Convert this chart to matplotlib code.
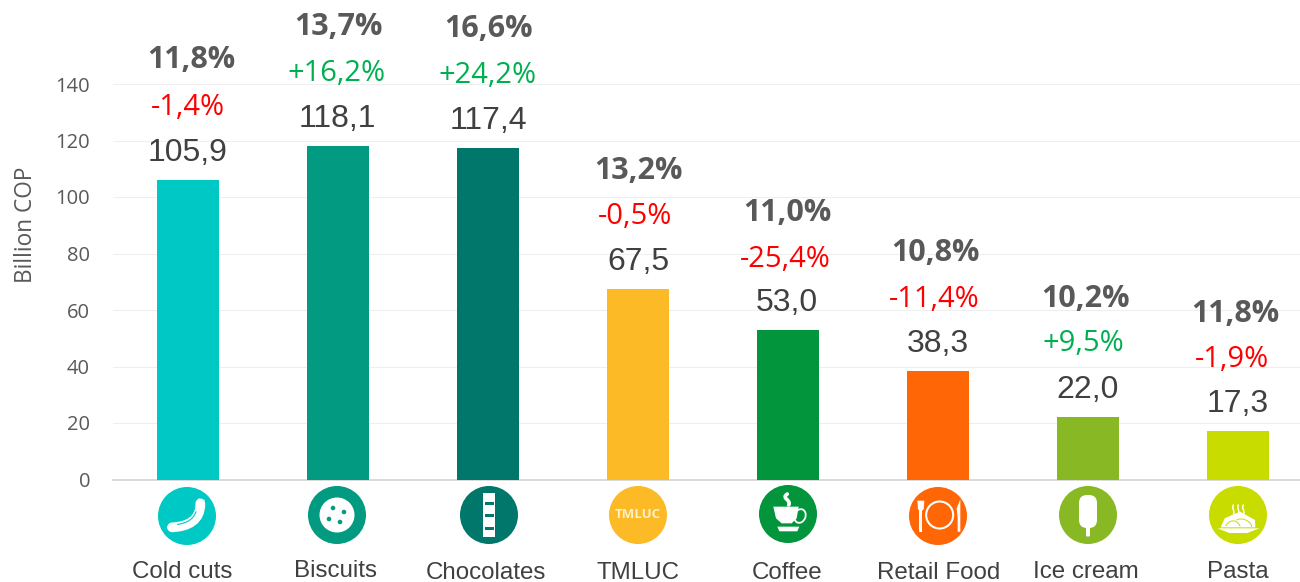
import matplotlib
matplotlib.use("Agg")
import matplotlib.pyplot as plt
from matplotlib.patches import Ellipse, Rectangle, Polygon, Circle, PathPatch, FancyBboxPatch
from matplotlib.path import Path

categories = ["Cold cuts", "Biscuits", "Chocolates", "TMLUC", "Coffee", "Retail Food", "Ice cream", "Pasta"]
values = [105.9, 118.1, 117.4, 67.5, 53.0, 38.3, 22.0, 17.3]
growth = ["-1,4%", "+16,2%", "+24,2%", "-0,5%", "-25,4%", "-11,4%", "+9,5%", "-1,9%"]
share = ["11,8%", "13,7%", "16,6%", "13,2%", "11,0%", "10,8%", "10,2%", "11,8%"]
colors = ["#00C8C4", "#029B82", "#01766A", "#FBBA26", "#02953B", "#FF6606", "#88B824", "#C8DC00"]
yticks = [0, 20, 40, 60, 80, 100, 120, 140]

# layout (pixels)
W, H = 1300, 582
value_off = [27] * 8
growth_off = [73, 72, 72, 72, 70, 72, 74, 71]
share_off = [120, 119, 119, 118, 117, 118, 118, 117]
growth_dx = [0, -1, 0, -3, -3, -4, -5, -6]
share_dx = [3, 1, 1, 0, -1, -3, -2, -3]
value_dx = [0, -1, 0, 0, -1, 0, 0, 0]
cat_x = [182, 335, 486, 638, 787, 939, 1086, 1238]
cat_y = [572, 571, 573, 573, 573, 573, 572, 572]
icon_x = [187, 337, 489, 638, 788, 938, 1088, 1238]
icon_y = [516, 515, 515, 515, 514, 516, 515, 515]

fig = plt.figure(figsize=(13, 5.82), dpi=100, facecolor="white")
y0 = 479.5
ppu = (479.5 - 84) / 140
ax = fig.add_axes([113 / W, (H - y0) / H, 1 - 113 / W, y0 / H])
ax.set_xlim(-0.5, (W - 188) / 150)
ax.set_ylim(0, y0 / ppu)
ax.bar(range(len(values)), values, width=62 / 150, color=colors, zorder=3)
for s in ["top", "right", "left"]:
    ax.spines[s].set_visible(False)
ax.spines["bottom"].set_color("#D9D9D9")
ax.spines["bottom"].set_linewidth(1.4)
ax.set_xticks([])
ax.set_yticks(yticks)
ax.tick_params(axis="y", length=0, pad=16.5)
for t in ax.get_yticklabels():
    t.set_fontfamily("Open Sans"); t.set_fontsize(14.5); t.set_color("#595959")
for v in yticks[1:]:
    ax.axhline(v, color="#EFEFEF", lw=0.8, zorder=1)
ax.set_axisbelow(True)

for i, v in enumerate(values):
    ax.annotate(f"{v:.1f}".replace(".", ","), (i, v), xytext=(value_dx[i], value_off[i]), textcoords="offset pixels",
                ha="center", va="center", fontsize=23, family="Liberation Sans", color="#404040", zorder=4)
    c = "#00B050" if growth[i].startswith("+") else "#FF0000"
    ax.annotate(growth[i], (i, v), xytext=(growth_dx[i], growth_off[i]), textcoords="offset pixels",
                ha="center", va="center", fontsize=21, family="Open Sans", color=c, zorder=4)
    ax.annotate(share[i], (i, v), xytext=(share_dx[i], share_off[i]), textcoords="offset pixels",
                ha="center", va="center", fontsize=22, family="Open Sans", weight="bold", color="#595959", zorder=4)

fig.text(26 / W, 1 - 225 / H, "Billion COP", rotation=90, ha="center", va="center",
         fontsize=16.3, family="Open Sans", color="#595959")

# overlay in pixel coordinates for the icons and category captions
ov = fig.add_axes([0, 0, 1, 1], facecolor="none")
ov.set_xlim(0, W); ov.set_ylim(H, 0); ov.axis("off")

for i, name in enumerate(categories):
    ov.text(cat_x[i], cat_y[i], name, ha="center", va="center", fontsize=17.4, family="Liberation Sans",
            color="#404040", clip_on=False)
    ov.add_patch(Circle((icon_x[i], icon_y[i]), 29, color=colors[i], lw=0))

def white(p):
    p.set_facecolor("white"); p.set_edgecolor("none"); ov.add_patch(p)

def curve(pts, color="white", lw=1.5, cap="round"):
    codes = [Path.MOVETO] + [Path.CURVE4] * (len(pts) - 1)
    ov.add_patch(PathPatch(Path(pts, codes), fc="none", ec=color, lw=lw, capstyle=cap))

def zp(ox, oy, pts):
    """Convert positions measured in a 3x crop whose corner is (ox, oy)."""
    return [(ox + a / 3, oy + b / 3) for a, b in pts]

# sausage
o = (140, 470)
curve(zp(*o, [(96, 172), (145, 170), (182, 150), (181, 100)]), lw=7)
curve(zp(*o, [(112, 163), (140, 160), (160, 148), (168, 125)]), color=colors[0], lw=0.8)
white(Polygon(zp(*o, [(176, 100), (176, 84), (186, 92), (194, 88), (190, 102)])))
white(Polygon(zp(*o, [(92, 160), (80, 172), (92, 184)])))
# cookie
x, y = icon_x[1], icon_y[1]
white(Circle((x, y), 17.5))
for dx, dy in [(-4, -7), (7, -3), (-8, 4), (3, 7)]:
    ov.add_patch(Circle((x + dx, y + dy), 2.3, color=colors[1], lw=0))
# chocolate bar
x, y = icon_x[2], icon_y[2]
white(Rectangle((x - 6, y - 22), 12, 44))
for dy in [-12, 0, 13]:
    ov.add_patch(Rectangle((x - 4.5, y + dy - 1.5), 9, 3, color=colors[2], lw=0))
# TMLUC
ov.text(icon_x[3], icon_y[3], "TMLUC", ha="center", va="center", fontsize=9.5, weight="bold", family="Open Sans", color="#FFF0CC")
# cup
o = (740, 470)
ov.add_patch(PathPatch(Path(zp(*o, [(100, 110), (176, 110), (170, 145), (155, 160), (125, 160), (108, 145), (100, 110)])),
                       fc="white", ec="none"))
ov.add_patch(Ellipse(zp(*o, [(180, 138)])[0], 11, 14, angle=20, fc="none", ec="white", lw=1.3))
white(Polygon(zp(*o, [(112, 170), (178, 170), (172, 184), (118, 184)])))
curve(zp(*o, [(142, 72), (122, 85), (155, 90), (146, 105)]), lw=2.6)
# plate
o = (890, 470)
ov.add_patch(Circle(zp(*o, [(149, 135)])[0], 13.5, fc="none", ec="white", lw=1.5))
white(Rectangle(zp(*o, [(88, 120)])[0], 3, 22))
white(Polygon(zp(*o, [(82, 92), (103, 92), (101, 118), (93, 125), (84, 118)])))
white(Polygon(zp(*o, [(203, 185), (211, 185), (211, 88), (200, 115), (203, 145)])))
# ice cream
x, y = icon_x[6], icon_y[6]
white(FancyBboxPatch((x - 6, y - 17), 12, 27, boxstyle="round,pad=3,rounding_size=8"))
white(FancyBboxPatch((x - 1.5, y + 10), 3, 11, boxstyle="round,pad=0.5,rounding_size=1"))
# pasta
o = (1190, 470)
white(Polygon(zp(*o, [(82, 175), (208, 175), (172, 189), (118, 189)])))
ov.add_patch(PathPatch(Path(zp(*o, [(92, 172), (104, 145), (150, 125), (195, 150), (196, 172), (92, 172)])), fc="white", ec="none"))
curve(zp(*o, [(108, 168), (115, 150), (140, 145), (150, 168)]), color=colors[7], lw=0.7)
curve(zp(*o, [(140, 150), (155, 140), (185, 155), (185, 170)]), color=colors[7], lw=0.7)
for dx in [130, 145, 160]:
    curve(zp(*o, [(dx, 105), (dx - 6, 115), (dx + 6, 122), (dx, 135)]), lw=1.1)

fig.savefig("out.png", dpi=100)
